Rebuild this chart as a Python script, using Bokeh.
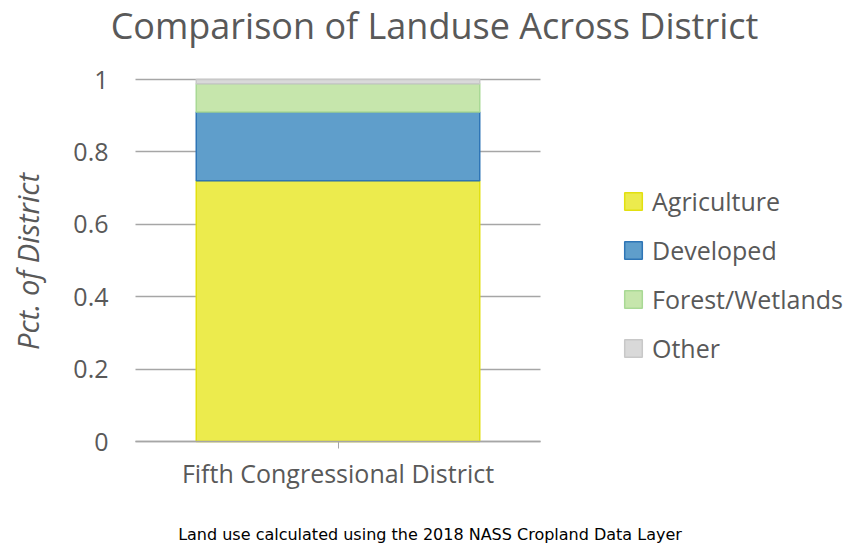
from bokeh.plotting import figure
from bokeh.models import (Range1d, Legend, Label, NumeralTickFormatter, FixedTicker)
from bokeh.embed import file_html
from bokeh.resources import INLINE

# ---- data ----
districts = ["Fifth Congressional District"]
agriculture = [0.72]
developed = [0.19]
forest_wetlands = [0.078]
other = [0.012]
series_names = ["Agriculture", "Developed", "Forest/Wetlands", "Other"]
y_ticks = [0, 0.2, 0.4, 0.6, 0.8, 1]
title_text = "Comparison of Landuse Across District"
y_label = "Pct. of District"
footnote = "Land use calculated using the 2018 NASS Cropland Data Layer"

fills = ["#ECEB4D", "#5F9ECB", "#C6E6AC", "#D9D9D9"]
lines = ["#E2E010", "#2E75B6", "#A9D995", "#C8C8C8"]
FONT = "Open Sans"
TXT = "#595959"

# layout (pixels)
W, H = 850, 543
PLOT_LEFT, PLOT_W, PLOT_TOP, PLOT_BOTTOM = 135, 405, 79, 441   # visible plotting area
x_pos = list(range(len(districts)))
slot = (x_pos[0] - 0.5, x_pos[-1] + 0.5)
ppx = (slot[1] - slot[0]) / PLOT_W
x_start = slot[0] - PLOT_LEFT * ppx
x_end = slot[0] + (W - PLOT_LEFT) * ppx
ppu = PLOT_BOTTOM - PLOT_TOP            # pixels per unit on y (range 0..1)
y_start = -(H - PLOT_BOTTOM) / ppu
y_end = 1 + PLOT_TOP / ppu

data = dict(x=x_pos, Agriculture=agriculture, Developed=developed,
            **{"Forest/Wetlands": forest_wetlands}, Other=other)

p = figure(width=W, height=H, x_range=Range1d(x_start, x_end),
           y_range=Range1d(y_start, y_end), output_backend="svg",
           toolbar_location=None, min_border_left=0, min_border_right=0,
           min_border_top=0, min_border_bottom=0)
p.outline_line_color = None

renderers = p.vbar_stack(series_names, x="x", width=0.70, source=data,
                         fill_color=fills, line_color=lines, line_width=1.5)

legend = Legend(items=[(n, [r]) for n, r in zip(series_names, renderers)],
                location=(622, 178), glyph_width=22, glyph_height=22,
                label_height=22, spacing=15, label_standoff=8, padding=0, margin=0,
                border_line_color=None, background_fill_alpha=0,
                label_text_font=FONT, label_text_font_size="25px",
                label_text_color=TXT)
p.add_layout(legend)

# y axis, drawn at the left edge of the plotting area
p.yaxis.fixed_location = slot[0]
p.yaxis.ticker = FixedTicker(ticks=y_ticks)
p.yaxis.bounds = (y_ticks[0], y_ticks[-1])
p.yaxis.formatter = NumeralTickFormatter(format="0.[0]")
p.yaxis.axis_line_color = None
p.yaxis.major_tick_line_color = None
p.yaxis.major_tick_out = 0
p.yaxis.major_tick_in = 0
p.yaxis.minor_tick_line_color = None
p.yaxis.major_label_text_font = FONT
p.yaxis.major_label_text_font_size = "25px"
p.yaxis.major_label_text_color = TXT
p.yaxis.major_label_standoff = 27

# x axis (one category), drawn at y = 0
p.xaxis.fixed_location = 0
p.xaxis.ticker = FixedTicker(ticks=x_pos)
p.xaxis.major_label_overrides = {x: d for x, d in zip(x_pos, districts)}
p.xaxis.bounds = slot
p.xaxis.axis_line_color = "#A6A6A6"
p.xaxis.axis_line_width = 1.5
p.xaxis.major_tick_line_color = "#A6A6A6"
p.xaxis.major_tick_out = 7
p.xaxis.major_tick_in = 0
p.xaxis.minor_tick_line_color = None
p.xaxis.major_label_text_font = FONT
p.xaxis.major_label_text_font_size = "25px"
p.xaxis.major_label_text_color = TXT
p.xaxis.major_label_standoff = 7

p.xgrid.grid_line_color = None
p.ygrid.grid_line_color = "#A6A6A6"
p.ygrid.grid_line_width = 1.5
p.ygrid.cross_bounds = slot

p.add_layout(Label(x=434, y=H - 25, x_units="screen", y_units="screen",
                   text=title_text, text_align="center", text_baseline="middle",
                   text_font=FONT, text_font_size="36px", text_color=TXT))
p.add_layout(Label(x=27, y=H - 261, x_units="screen", y_units="screen",
                   text=y_label, angle=90, angle_units="deg", text_align="center",
                   text_baseline="middle", text_font=FONT, text_font_size="29px",
                   text_font_style="italic", text_color=TXT))
p.add_layout(Label(x=429.5, y=H - 534, x_units="screen", y_units="screen",
                   text=footnote, text_align="center", text_baseline="middle",
                   text_font="DejaVu Sans", text_font_size="16px",
                   text_color="#000000"))

open("out.html", "w").write(file_html(p, INLINE))
